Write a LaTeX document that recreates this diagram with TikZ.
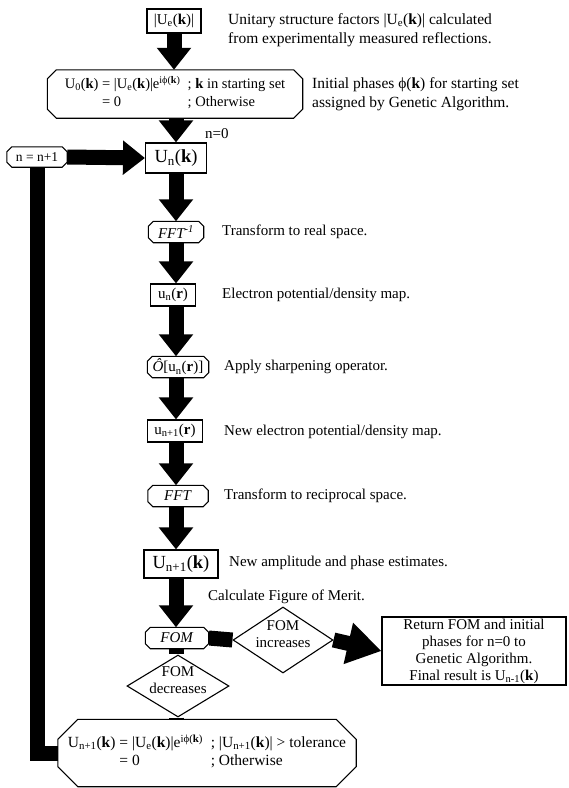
\documentclass[tikz,border=0pt]{standalone}
\usepackage{fontspec}
\setmainfont{Liberation Serif}
\usetikzlibrary{arrows.meta,calc,backgrounds,shapes.geometric}
\newcommand\chbox[2][4]{%
 \draw[boxline] ($(#2.north west)+(#1pt,0pt)$) -- ($(#2.north east)+(-#1pt,0pt)$) -- ($(#2.north east)+(0pt,-#1pt)$) -- ($(#2.south east)+(0pt,#1pt)$) -- ($(#2.south east)+(-#1pt,0pt)$) -- ($(#2.south west)+(#1pt,0pt)$) -- ($(#2.south west)+(0pt,#1pt)$) -- ($(#2.north west)+(0pt,-#1pt)$) -- cycle;}
\tikzset{
 boxline/.style={line width=1.1pt},
 rbox/.style={draw, line width=1.1pt, fill=white, inner sep=0pt, align=center},
 cbox/.style={fill=white, inner sep=0pt, align=center},
 arr/.style={line width=15pt, -{Triangle[width=33pt,length=22pt]}},
 bigarr/.style={line width=15pt, -{Triangle[width=40pt,length=34pt]}},
 bar/.style={line width=15pt},
 dia/.style={diamond, draw, line width=1.1pt, fill=white, inner sep=0pt},
 note/.style={anchor=west, inner sep=0pt, align=left},
 big/.style={font=\fontsize{18.5}{20}\selectfont},
}
\begin{document}
\begin{tikzpicture}[x=1pt, y=-1pt, font=\fontsize{15}{17}\selectfont]
\useasboundingbox (0,0) rectangle (569,788);
\coordinate (col) at (176,0);
% nodes
\node[rbox, minimum width=54pt, minimum height=24pt] (ue) at (174,21) {|U\textsubscript{e}(\textbf{k})|};
\node[cbox, minimum width=255pt, minimum height=48pt, font=\fontsize{14.5}{17}\selectfont] (u0) at (175,94)
 {\begin{tabular}{@{}r@{ }l@{\ \ }l@{}}
 U\textsubscript{0}(\textbf{k}) & = |U\textsubscript{e}(\textbf{k})|e\textsuperscript{iϕ(\textbf{k})} & ; \textbf{k} in starting set\\[1pt]
 & = 0 & ; Otherwise
 \end{tabular}};
\chbox[9]{u0}
\node[rbox, big, minimum width=61pt, minimum height=30pt] (un) at (176,158) {U\textsubscript{n}(\textbf{k})};
\node[cbox, minimum width=60pt, minimum height=20pt, font=\fontsize{13.5}{15}\selectfont] (nn) at (37,157) {n = n+1};
\chbox[5]{nn}
\node[cbox, minimum width=55pt, minimum height=21pt] (fi) at (176,232) {\textit{FFT\textsuperscript{-1}}};
\chbox[5]{fi}
\node[rbox, minimum width=45pt, minimum height=22pt] (ur) at (173,295) {u\textsubscript{n}(\textbf{r})};
\node[cbox, minimum width=61pt, minimum height=21pt] (op) at (178,367) {\textit{Ô}[u\textsubscript{n}(\textbf{r})]};
\chbox[5]{op}
\node[rbox, minimum width=55pt, minimum height=22pt] (ur1) at (175,431) {u\textsubscript{n+1}(\textbf{r})};
\node[cbox, minimum width=60pt, minimum height=21pt] (ff) at (178,496) {\textit{FFT}};
\chbox[5]{ff}
\node[rbox, big, minimum width=74pt, minimum height=28pt] (uk1) at (181,564) {U\textsubscript{n+1}(\textbf{k})};
\node[cbox, minimum width=63pt, minimum height=21pt] (fom) at (177,638) {\textit{FOM}};
\chbox[5]{fom}
\node[dia, minimum width=100pt, minimum height=66pt] (inc) at (283,640) {};
\node[align=center, inner sep=0pt] at ($(inc)+(0pt,6pt)$) {FOM\\increases};
\node[rbox, minimum width=184pt, minimum height=68pt] (ret) at (474,651)
 {Return FOM and initial\\phases for n=0 to\\Genetic Algorithm.\\Final result is U\textsubscript{n-1}(\textbf{k})};
\node[dia, minimum width=102pt, minimum height=62pt] (dec) at (178,686) {};
\node[align=center, inner sep=0pt] at ($(dec)+(0pt,6pt)$) {FOM\\decreases};
\node[cbox, minimum width=298pt, minimum height=67pt, font=\fontsize{15.5}{18}\selectfont] (bot) at (207,753)
 {\begin{tabular}{@{}r@{ }l@{\ \ }l@{}}
 U\textsubscript{n+1}(\textbf{k}) & = |U\textsubscript{e}(\textbf{k})|e\textsuperscript{iϕ(\textbf{k})} & ; |U\textsubscript{n+1}(\textbf{k})| > tolerance\\
 & = 0 & ; Otherwise
 \end{tabular}};
\chbox[20]{bot}
% side notes
\node[note, font=\fontsize{15.5}{19.5}\selectfont] at (228,30) {Unitary structure factors |U\textsubscript{e}(\textbf{k})| calculated\\from experimentally measured reflections.};
\node[note, font=\fontsize{15.5}{19.5}\selectfont] at (312,94) {Initial phases ϕ(\textbf{k}) for starting set\\assigned by Genetic Algorithm.};
\node[note] at (205,134) {n=0};
\node[note] at (222,232) {Transform to real space.};
\node[note] at (222,295) {Electron potential/density map.};
\node[note] at (224,367) {Apply sharpening operator.};
\node[note] at (224,432) {New electron potential/density map.};
\node[note] at (224,496) {Transform to reciprocal space.};
\node[note] at (229,563) {New amplitude and phase estimates.};
\node[note] at (208,597) {Calculate Figure of Merit.};
% connectors
\begin{scope}[on background layer]
\draw[arr] (ue.south) -- (ue.south |- u0.north);
\draw[arr] (u0.south -| col) -- (un.north -| col);
\draw[arr] (un.south -| col) -- (fi.north -| col);
\draw[arr] (fi.south -| col) -- (ur.north -| col);
\draw[arr] (ur.south -| col) -- (op.north -| col);
\draw[arr] (op.south -| col) -- (ur1.north -| col);
\draw[arr] (ur1.south -| col) -- (ff.north -| col);
\draw[arr] (ff.south -| col) -- (uk1.north -| col);
\draw[arr] (uk1.south -| col) -- (fom.north -| col);
\draw[bar] (fom.east) -- (inc.west);
\draw[bigarr] (inc.east) -- (ret.west);
\draw[bar] (fom.south -| col) -- (dec.north -| col);
\draw[bar] (dec.south -| col) -- (bot.north -| col);
\draw[bar] (bot.west) -| (nn.south);
\draw[arr] (nn.east) -- (un.west);
\end{scope}
\end{tikzpicture}
\end{document}
